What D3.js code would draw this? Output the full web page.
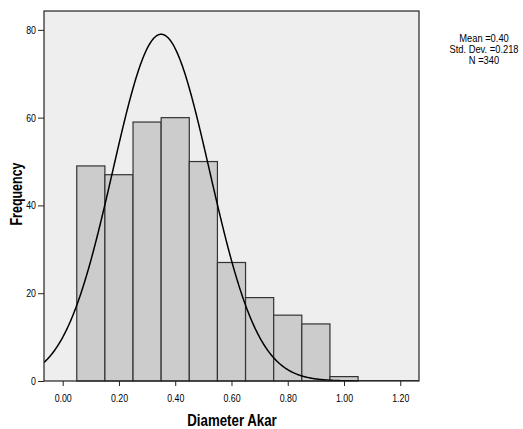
<!DOCTYPE html>
<html>
<head>
<meta charset="utf-8">
<script src="https://cdn.jsdelivr.net/npm/d3@7"></script>
<style>
  html, body { margin: 0; padding: 0; background: #ffffff; }
  svg { display: block; }
  text { font-family: "Liberation Sans", Arial, sans-serif; }
</style>
</head>
<body>
<svg id="chart" width="523" height="429"></svg>
<script>
// ---- data ----
const binStarts = [0.05, 0.15, 0.25, 0.35, 0.45, 0.55, 0.65, 0.75, 0.85, 0.95];
const binWidth = 0.1;
const frequencies = [49, 47, 59, 60, 50, 27, 19, 15, 13, 1];
const xTicks = [0.00, 0.20, 0.40, 0.60, 0.80, 1.00, 1.20];
const yTicks = [0, 20, 40, 60, 80];
const statsLines = ["Mean =0.40", "Std. Dev. =0.218", "N =340"];
// normal curve parameters as drawn in the picture
const curveMean = 0.35;
const curveSd = 0.172;
const curvePeak = 79;

// ---- layout ----
const svg = d3.select("#chart");
const plot = { left: 44, top: 11, right: 419, bottom: 381 };
const narrow = 0.8;

const x = d3.scaleLinear().domain([-0.0665, 1.2666]).range([plot.left, plot.right]);
const y = d3.scaleLinear().domain([0, 84.3]).range([plot.bottom, plot.top]);

// background
svg.append("rect")
  .attr("x", plot.left).attr("y", plot.top)
  .attr("width", plot.right - plot.left).attr("height", plot.bottom - plot.top)
  .attr("fill", "#eeeeee");

// clip
svg.append("clipPath").attr("id", "clip").append("rect")
  .attr("x", plot.left).attr("y", plot.top)
  .attr("width", plot.right - plot.left).attr("height", plot.bottom - plot.top);

// bars
svg.append("g").selectAll("rect")
  .data(binStarts.map((s, i) => ({ s, f: frequencies[i] })))
  .join("rect")
  .attr("x", d => x(d.s))
  .attr("y", d => y(d.f))
  .attr("width", d => x(d.s + binWidth) - x(d.s))
  .attr("height", d => y(0) - y(d.f))
  .attr("fill", "#cccccc")
  .attr("stroke", "#333333")
  .attr("stroke-width", 1.2);

// normal curve
const xs = d3.range(-0.0665, 1.2666, 0.002);
const curve = d3.line()
  .x(v => x(v))
  .y(v => y(curvePeak * Math.exp(-((v - curveMean) ** 2) / (2 * curveSd * curveSd))));
svg.append("path")
  .attr("clip-path", "url(#clip)")
  .attr("d", curve(xs))
  .attr("fill", "none")
  .attr("stroke", "#000000")
  .attr("stroke-width", 1.5);

// frame
svg.append("rect")
  .attr("x", plot.left).attr("y", plot.top)
  .attr("width", plot.right - plot.left).attr("height", plot.bottom - plot.top)
  .attr("fill", "none")
  .attr("stroke", "#222222")
  .attr("stroke-width", 1.2);

// axes
const xAxis = d3.axisBottom(x).tickValues(xTicks).tickFormat(d3.format(".2f")).tickSize(5).tickSizeOuter(0);
const gx = svg.append("g").attr("transform", `translate(0,${plot.bottom})`).call(xAxis);
gx.select(".domain").remove();
gx.selectAll("line").attr("stroke", "#222");
gx.selectAll("text").attr("font-size", 11).attr("dy", "1.15em").attr("fill", "#000")
  .attr("transform", `scale(${narrow},1)`)
  .style("font-family", '"Liberation Sans", Arial, sans-serif');

const yAxis = d3.axisLeft(y).tickValues(yTicks).tickFormat(d3.format("d")).tickSize(6).tickSizeOuter(0);
const gy = svg.append("g").attr("transform", `translate(${plot.left},0)`).call(yAxis);
gy.select(".domain").remove();
gy.selectAll("line").attr("stroke", "#222");
gy.selectAll("text").attr("font-size", 11).attr("fill", "#000")
  .each(function () {
    const t = d3.select(this);
    const ty = t.attr("transform") ; // none expected
  })
  .attr("x", -8 / narrow)
  .attr("transform", `scale(${narrow},1)`)
  .style("font-family", '"Liberation Sans", Arial, sans-serif');

// axis titles
svg.append("text")
  .attr("transform", "translate(232,426) scale(0.83,1)")
  .attr("text-anchor", "middle")
  .attr("font-size", 16).attr("font-weight", "bold")
  .text("Diameter Akar");

svg.append("text")
  .attr("transform", "translate(22,194) rotate(-90) scale(0.78,1)")
  .attr("text-anchor", "middle")
  .attr("font-size", 16).attr("font-weight", "bold")
  .text("Frequency");

// stats box text
svg.append("g")
  .attr("transform", "translate(484,0) scale(0.85,1)")
  .selectAll("text")
  .data(statsLines)
  .join("text")
  .attr("x", 0)
  .attr("y", (d, i) => 42 + i * 11)
  .attr("text-anchor", "middle")
  .attr("font-size", 11)
  .text(d => d);
</script>
</body>
</html>
